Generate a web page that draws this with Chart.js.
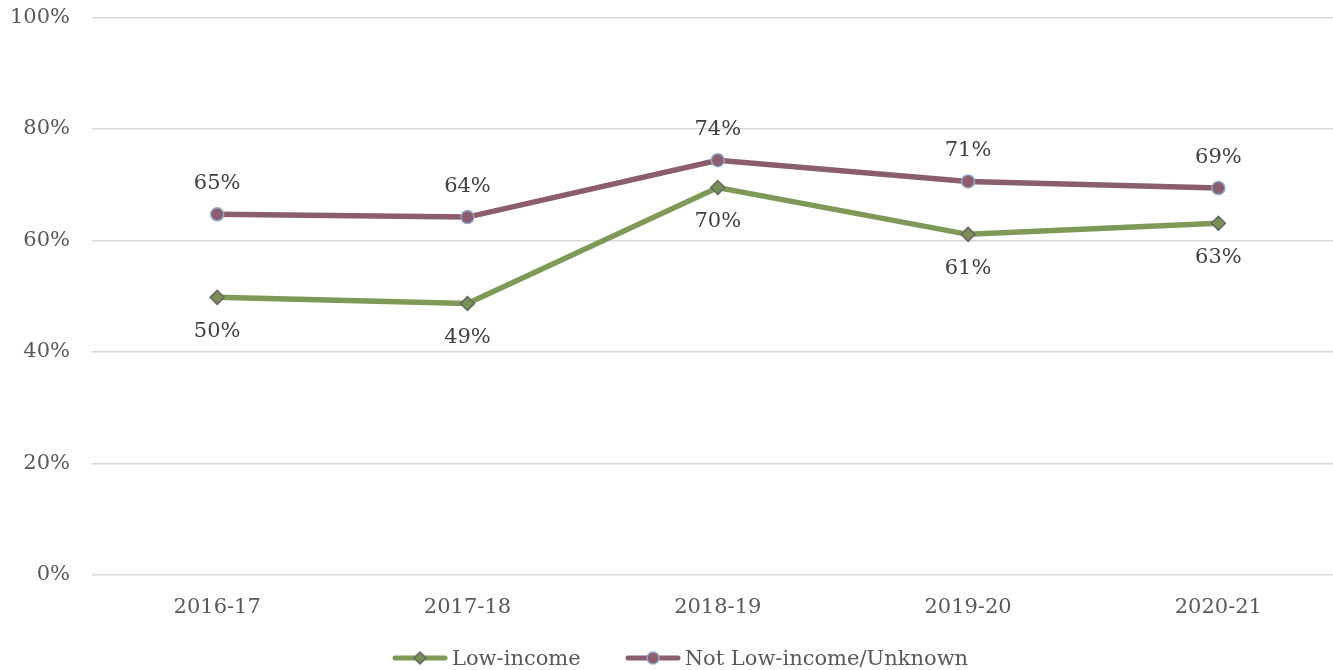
<!DOCTYPE html>
<html>
<head>
<meta charset="utf-8">
<script src="https://cdn.jsdelivr.net/npm/chart.js@4.4.1/dist/chart.umd.min.js"></script>
<style>
  html, body { margin: 0; padding: 0; background: #fff; overflow: hidden; }
  #wrap { position: relative; width: 1333px; height: 670px; overflow: hidden; }
  #chart { display: block; position: absolute; left: 0; top: -17px; }
  #legend {
    position: absolute; left: 392px; top: 646px; height: 24px;
    display: flex; align-items: center;
    font: 21px 'DejaVu Serif', serif; color: #595959; white-space: nowrap;
  }
  #legend .item { display: flex; align-items: center; margin-right: 44px; }
  #legend svg { margin-right: 4px; }
</style>
</head>
<body>
<div id="wrap">
  <canvas id="chart" width="1352" height="687" style="width:1352px;height:687px"></canvas>
  <div id="legend"></div>
</div>
<script>
const years = ["2016-17", "2017-18", "2018-19", "2019-20", "2020-21"];
const lowIncome = [49.8, 48.7, 69.5, 61.1, 63.1];
const notLowIncome = [64.7, 64.2, 74.4, 70.6, 69.4];
const yTicks = [0, 20, 40, 60, 80, 100];

const GREEN = "#7f9a56";
const MAROON = "#8c5d6e";
const FONT = "'DejaVu Serif', serif";

const valueLabels = {
  id: "valueLabels",
  afterDatasetsDraw(chart) {
    const ctx = chart.ctx;
    ctx.save();
    ctx.font = "21px " + FONT;
    ctx.fillStyle = "#404040";
    ctx.textAlign = "center";
    ctx.textBaseline = "middle";
    chart.data.datasets.forEach((ds, i) => {
      chart.getDatasetMeta(i).data.forEach((pt, j) => {
        const off = ds.labelPos === "below" ? 34 : -31;
        ctx.fillText(Math.round(ds.data[j]) + "%", pt.x, pt.y + off);
      });
    });
    ctx.restore();
  }
};

const chart = new Chart(document.getElementById("chart"), {
  type: "line",
  data: {
    labels: years,
    datasets: [
      {
        label: "Low-income",
        data: lowIncome,
        borderColor: GREEN,
        backgroundColor: "#7a8f55",
        pointBorderColor: "#666666",
        borderWidth: 5.5,
        pointStyle: "rectRot",
        pointRadius: 7,
        pointBorderWidth: 1.5,
        labelPos: "below",
        marker: "diamond"
      },
      {
        label: "Not Low-income/Unknown",
        data: notLowIncome,
        borderColor: MAROON,
        backgroundColor: MAROON,
        pointBorderColor: "#8fabc4",
        borderWidth: 5.5,
        pointStyle: "circle",
        pointRadius: 6.5,
        pointBorderWidth: 1.5,
        labelPos: "above",
        marker: "circle"
      }
    ]
  },
  options: {
    responsive: false,
    animation: false,
    layout: { padding: { top: 6, right: 0, bottom: 30, left: -12 } },
    plugins: {
      tooltip: { enabled: false },
      legend: { display: false }
    },
    scales: {
      x: {
        offset: true,
        grid: { display: false, drawTicks: false },
        border: { display: false },
        ticks: { font: { family: FONT, size: 21 }, color: "#595959", padding: 20 }
      },
      y: {
        min: 0,
        max: 100,
        afterBuildTicks(axis) { axis.ticks = yTicks.map(v => ({ value: v })); },
        grid: { color: "#d9d9d9", lineWidth: 1.5, drawTicks: false },
        border: { display: false },
        ticks: {
          font: { family: FONT, size: 21 },
          color: "#595959",
          padding: 22,
          callback: v => v + "%"
        }
      }
    }
  },
  plugins: [valueLabels]
});

// html legend: line with marker, then the series name
const legend = document.getElementById("legend");
chart.data.datasets.forEach(ds => {
  const mark = ds.marker === "diamond"
    ? '<path d="M28 2 L34 8 L28 14 L22 8 Z"/>'
    : '<circle cx="28" cy="8" r="6"/>';
  legend.insertAdjacentHTML("beforeend",
    '<span class="item"><svg width="56" height="16" viewBox="0 0 56 16">' +
    '<line x1="3" y1="8" x2="53" y2="8" stroke="' + ds.borderColor + '" stroke-width="5" stroke-linecap="round"/>' +
    '<g fill="' + ds.backgroundColor + '" stroke="' + ds.pointBorderColor + '" stroke-width="1.5">' + mark + '</g>' +
    '</svg><span>' + ds.label + '</span></span>');
});
</script>
</body>
</html>
